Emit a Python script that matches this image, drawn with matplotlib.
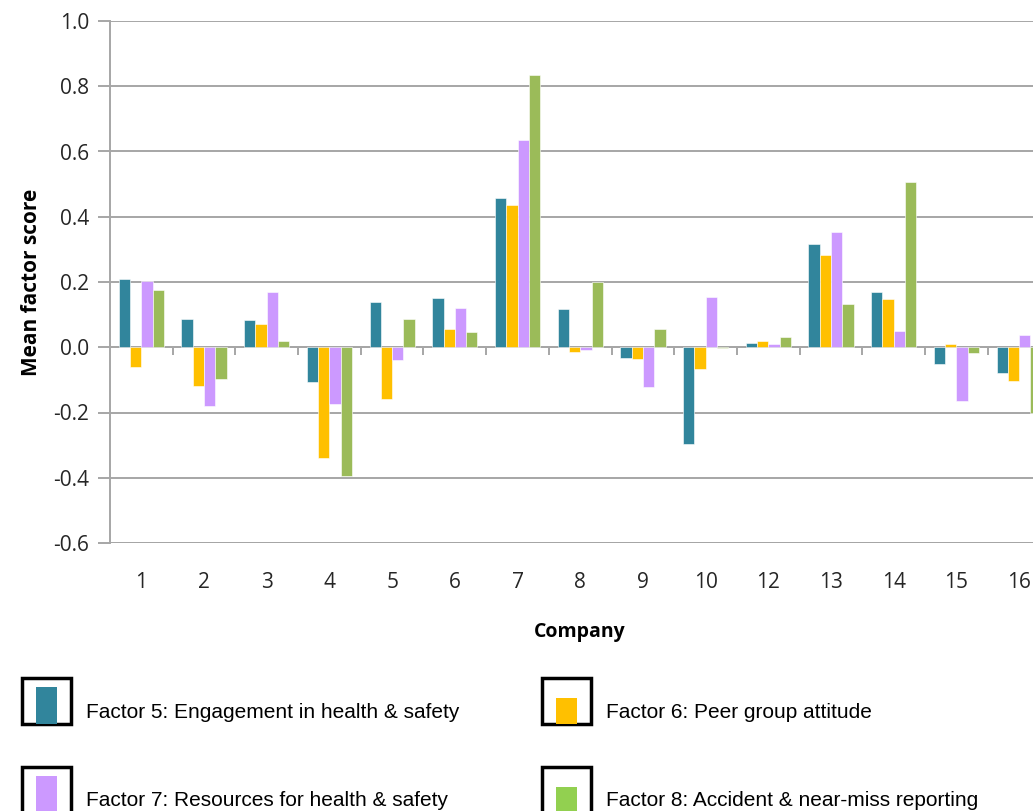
import matplotlib
matplotlib.use("Agg")
import matplotlib.pyplot as plt
from matplotlib.patches import Rectangle
import numpy as np

companies = ["1", "2", "3", "4", "5", "6", "7", "8", "9", "10", "12", "13", "14", "15", "16"]
factor5 = [0.210, 0.088, 0.085, -0.107, 0.140, 0.151, 0.456, 0.118, -0.034, -0.298, 0.014, 0.317, 0.169, -0.052, -0.080]
factor6 = [-0.062, -0.118, 0.070, -0.340, -0.158, 0.055, 0.435, -0.014, -0.037, -0.066, 0.018, 0.284, 0.147, 0.011, -0.103]
factor7 = [0.203, -0.180, 0.170, -0.173, -0.040, 0.121, 0.634, -0.007, -0.121, 0.155, 0.011, 0.354, 0.051, -0.165, 0.037]
factor8 = [0.177, -0.096, 0.019, -0.394, 0.088, 0.048, 0.833, 0.200, 0.057, -0.003, 0.030, 0.133, 0.505, -0.017, -0.200]

series_names = ["Factor 5: Engagement in health & safety",
                "Factor 6: Peer group attitude",
                "Factor 7: Resources for health & safety",
                "Factor 8: Accident & near-miss reporting"]
colors = ["#31859C", "#FFC000", "#CC99FF", "#9BBB59"]
legend_colors = ["#31859C", "#FFC000", "#CC99FF", "#92D050"]

W, H = 1033, 811
fig = plt.figure(figsize=(W / 100, H / 100), dpi=100)

# axes run past the right edge of the figure, so the last group is clipped
left, right, top, bottom = 110, 1050.5, 21, 543
ax = fig.add_axes([left / W, 1 - bottom / H, (right - left) / W, (bottom - top) / H])

x = np.arange(len(companies))
bw = 0.18
for i, (vals, c) in enumerate(zip([factor5, factor6, factor7, factor8], colors)):
    ax.bar(x + (i - 1.5) * bw, vals, bw, color=c, edgecolor="white", linewidth=0.4, zorder=3)

ax.set_xlim(-0.5, len(companies) - 0.5)
ax.set_ylim(-0.6, 1.0)
ax.set_yticks(np.arange(-0.6, 1.01, 0.2))
ax.set_yticklabels([f"{v:.1f}" for v in np.arange(-0.6, 1.01, 0.2)])
ax.yaxis.grid(True, color="#A6A6A6", linewidth=1.4, zorder=0)

grid_c = "#A6A6A6"
for s in ["top", "right", "bottom"]:
    ax.spines[s].set_visible(False)
ax.spines["left"].set_color(grid_c)
ax.spines["left"].set_linewidth(1.4)
ax.tick_params(axis="y", length=9, width=1.4, color=grid_c, pad=6,
               labelsize=15, labelcolor="#262626")

# category axis crosses at zero with tick marks between groups
ax.axhline(0, color=grid_c, linewidth=1.4, zorder=2)
ax.vlines(np.arange(0.5, len(companies) - 0.5), -0.025, 0, color=grid_c, linewidth=1.4, zorder=2)
ax.axhline(-0.6, color=grid_c, linewidth=1.4, zorder=2)

ax.set_xticks(x)
ax.set_xticklabels(companies)
ax.tick_params(axis="x", length=0, pad=21, labelsize=15, labelcolor="#262626")

for lab in ax.get_xticklabels() + ax.get_yticklabels():
    lab.set_family(["Open Sans", "DejaVu Sans"])

ax.set_ylabel("Mean factor score", fontsize=15, fontweight="bold",
              family=["Open Sans", "DejaVu Sans"], labelpad=8)
fig.text(580 / W, 1 - 632 / H, "Company", fontsize=14, fontweight="bold",
         family=["Open Sans", "DejaVu Sans"], ha="center", va="center")

# legend: boxed swatches at the foot of the figure
box_x = [22, 541.5, 22, 541.5]
box_y = [678, 678, 767, 767]
inner_top = [687, 698, 776, 787]
for name, c, bx, by, it in zip(series_names, legend_colors, box_x, box_y, inner_top):
    bh = 46
    fig.add_artist(Rectangle((bx / W, 1 - (by + bh) / H), 49 / W, bh / H,
                             transform=fig.transFigure, facecolor="white",
                             edgecolor="black", linewidth=2.5))
    fig.add_artist(Rectangle(((bx + 14) / W, 1 - (by + bh) / H), 21 / W, (by + bh - it) / H,
                             transform=fig.transFigure, facecolor=c, edgecolor="none"))
    fig.text((bx + 64) / W, 1 - (by + 34) / H, name, fontsize=15,
             family=["Liberation Sans", "DejaVu Sans"], ha="left", va="center", color="black")

fig.savefig("out.png", dpi=100)
